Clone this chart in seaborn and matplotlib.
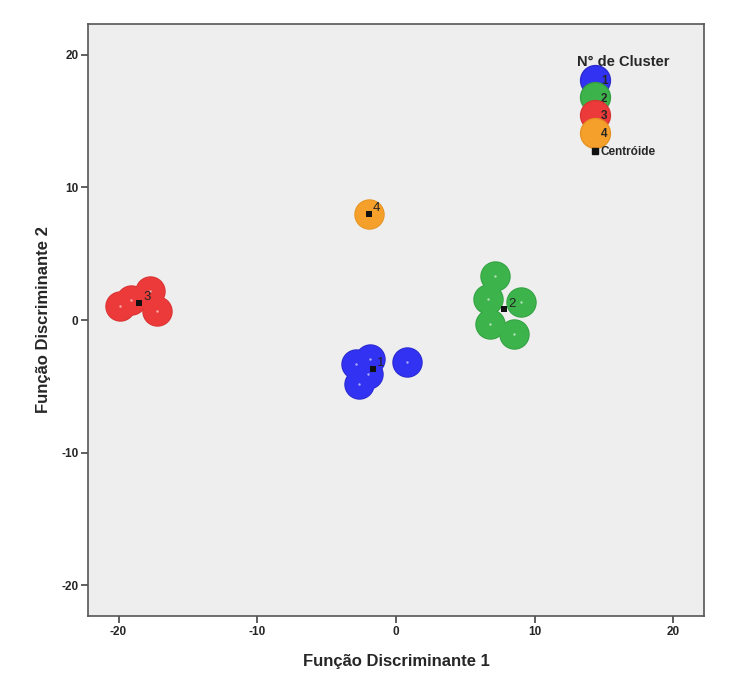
import pandas as pd
import matplotlib
matplotlib.use("Agg")
import matplotlib.pyplot as plt
from matplotlib.lines import Line2D
import seaborn as sns

# Discriminant scores
f1_c1 = [0.8, -1.9, -2.7, -2.9, -2.0]
f2_c1 = [-3.15, -2.9, -4.8, -3.3, -4.05]
f1_c2 = [7.1, 6.6, 6.8, 9.0, 8.5]
f2_c2 = [3.3, 1.6, -0.3, 1.35, -1.05]
f1_c3 = [-19.9, -19.1, -17.7, -17.2]
f2_c3 = [1.05, 1.5, 2.2, 0.7]
f1_c4 = [-1.95]
f2_c4 = [8.0]

# Centroids
cent_labels = ["1", "2", "3", "4"]
cent_f1 = [-1.65, 7.8, -18.5, -1.95]
cent_f2 = [-3.7, 0.8, 1.3, 8.0]

cluster_names = ["1", "2", "3", "4"]
colors = ["#3232f2", "#3cb44b", "#ec3a3a", "#f5a02a"]
edges = ["#2a2ad0", "#33a042", "#d83434", "#e69322"]

df = pd.DataFrame({
    "f1": f1_c1 + f1_c2 + f1_c3 + f1_c4,
    "f2": f2_c1 + f2_c2 + f2_c3 + f2_c4,
    "cluster": ["1"] * len(f1_c1) + ["2"] * len(f1_c2) + ["3"] * len(f1_c3) + ["4"] * len(f1_c4),
})
cent = pd.DataFrame({"f1": cent_f1, "f2": cent_f2, "label": cent_labels})

sns.set_style("white")
plt.rcParams["font.family"] = ["Liberation Sans", "DejaVu Sans"]
plt.rcParams["axes.unicode_minus"] = False

fig = plt.figure(figsize=(7.42, 6.73), dpi=100)
ax = fig.add_axes([0.1186, 0.0847, 0.8302, 0.8796])
ax.set_facecolor("#eeeeee")

# outer ring first, then fill on top so overlapping circles merge
for name, col, ec in zip(cluster_names, colors, edges):
    sub = df[df["cluster"] == name]
    sns.scatterplot(data=sub, x="f1", y="f2", color=ec, linewidth=0,
                    s=480, ax=ax, legend=False, zorder=2)
    sns.scatterplot(data=sub, x="f1", y="f2", color=col, linewidth=0,
                    s=420, ax=ax, legend=False, zorder=2.5)
# tiny light dot in the middle of each case
sns.scatterplot(data=df, x="f1", y="f2", color="#ffffff", alpha=0.6,
                s=3, linewidth=0, ax=ax, legend=False, zorder=3)
# centroids
sns.scatterplot(data=cent, x="f1", y="f2", color="#111111", marker="s",
                s=14, linewidth=0, ax=ax, legend=False, zorder=4)
for _, r in cent.iterrows():
    ax.annotate(r["label"], (r["f1"], r["f2"]), xytext=(3, 2),
                textcoords="offset points", fontsize=9.5, color="#222222",
                zorder=5)

ax.set_xlim(-22.2, 22.2)
ax.set_ylim(-22.3, 22.3)
ax.set_xticks([-20, -10, 0, 10, 20])
ax.set_yticks([-20, -10, 0, 10, 20])
ax.tick_params(axis="both", which="both", direction="out", length=5, width=1.2,
               color="#444444", labelsize=8.5, bottom=True, left=True, pad=2)
for lab in ax.get_xticklabels() + ax.get_yticklabels():
    lab.set_fontweight("bold")
for sp in ax.spines.values():
    sp.set_color("#555555")
    sp.set_linewidth(1.2)

ax.set_xlabel("Função Discriminante 1", fontsize=12, fontweight="bold", labelpad=12)
ax.set_ylabel("Função Discriminante 2", fontsize=12, fontweight="bold", labelpad=7)

# legend
handles = [Line2D([], [], marker="o", linestyle="", markersize=21.5,
                  markerfacecolor=c, markeredgecolor=e, markeredgewidth=1,
                  label=n)
           for n, c, e in zip(cluster_names, colors, edges)]
handles.append(Line2D([], [], marker="s", linestyle="", markersize=4,
                      markerfacecolor="#111111", markeredgecolor="#111111",
                      label="Centróide"))
leg = ax.legend(handles=handles, title="N° de Cluster", loc="upper left",
                bbox_to_anchor=(0.78, 0.962), frameon=False, fontsize=8.5,
                title_fontsize=10.5, labelspacing=0.5, handlelength=0.8,
                handletextpad=0.1, borderpad=0.2)
leg.get_title().set_fontweight("bold")
for t in leg.get_texts():
    t.set_fontweight("bold")

fig.savefig("out.png", dpi=100, facecolor="white")
